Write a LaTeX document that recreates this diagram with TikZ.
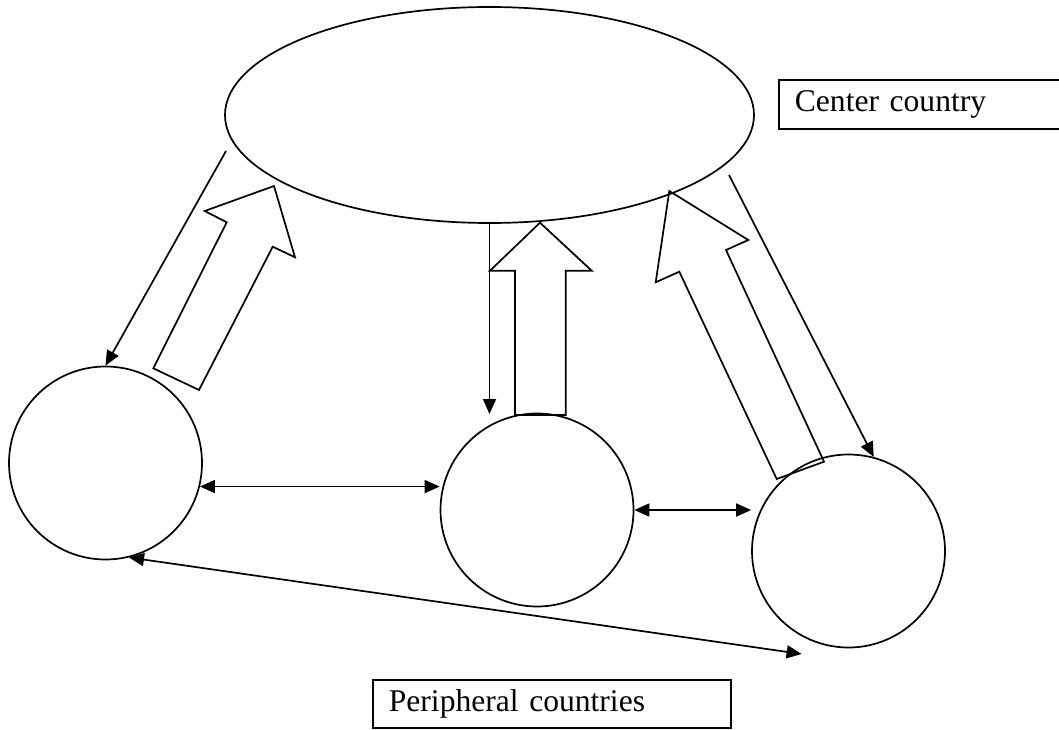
\documentclass[tikz,border=0pt]{standalone}
\usepackage{fontspec}
\setmainfont{Liberation Serif}
\usetikzlibrary{arrows.meta,shapes.geometric}

\begin{document}
\begin{tikzpicture}[x=1pt,y=-1pt]
	\tikzstyle{land}=[circle,draw=black,line width=1.7pt,minimum size=193pt,inner sep=0pt]
	\tikzstyle{tag}=[draw=black,line width=1.7pt,anchor=north west,align=left,inner xsep=16pt,inner ysep=0pt,font=\fontsize{31.6}{38}\selectfont]
	\tikzstyle{thin}=[line width=1.7pt,-{Triangle[length=15pt,width=13pt]}]
	\tikzstyle{twoway}=[line width=1.7pt,{Triangle[length=15pt,width=13pt]}-{Triangle[length=15pt,width=13pt]}]
	\tikzstyle{hollow}=[line width=1.7pt,line join=miter]
	\useasboundingbox (0,0) rectangle (1059,730);
	\node[ellipse,draw=black,line width=1.7pt,minimum width=529pt,minimum height=216pt,inner sep=0pt] (core) at (489.5,115) {};
	\node[land] (p1) at (105.5,463) {};
	\node[land] (p2) at (537,510) {};
	\node[land] (p3) at (848.5,551) {};
	\node[tag,text width=268pt,minimum height=49pt] (corelabel) at (778,79) {Center country};
	\node[tag,text width=326pt,minimum height=48pt] (perilabel) at (372,679) {Peripheral countries};
	\coordinate (l0) at (226,151);
	\coordinate (m1) at (489.5,414);
	\coordinate (r0) at (729,175);
	\coordinate (d1) at (801.6,654);
	\draw[thin] (l0) -- (p1.north);
	\draw[thin] (core.south) -- (m1);
	\draw[thin] (r0) -- (p3.75);
	\draw[twoway] (p1.-14) -- (p1.-14 -| p2.west);
	\draw[twoway] (p2.east) -- (p2.east -| p3.west);
	\draw[twoway] (p1.-76) -- (d1);
	\draw[hollow] (153.3,368.3) -- (199,390) -- (272.7,246.7) -- (295,257.3) -- (274,186) -- (204.7,211) -- (226.7,222.3) -- cycle;
	\draw[hollow] (540,222.7) -- (591.7,270.7) -- (565.7,270.7) -- (565.7,415) -- (515,415) -- (515,270.7) -- (490,270.7) -- cycle;
	\draw[hollow] (669.3,191) -- (748.3,240) -- (726,250) -- (824,461.7) -- (776.7,479) -- (679.3,271.7) -- (655.7,282.3) -- cycle;
\end{tikzpicture}
\end{document}
